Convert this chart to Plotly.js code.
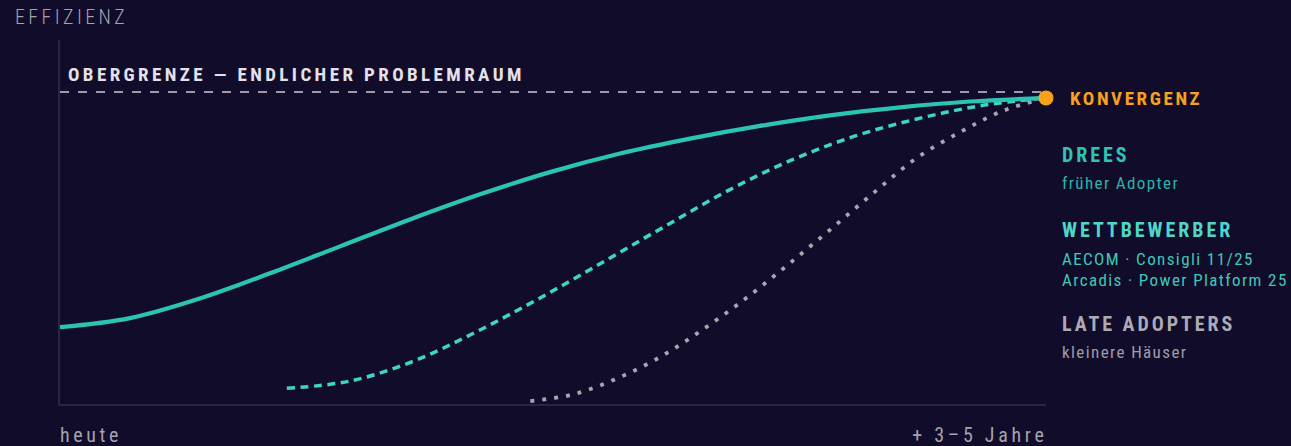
<!DOCTYPE html>
<html>
<head>
<meta charset="utf-8">
<script src="https://cdn.plot.ly/plotly-3.0.1.min.js"></script>
<style>
  html, body { margin: 0; padding: 0; background: #110c29; }
  #chart { width: 1291px; height: 446px; }
</style>
</head>
<body>
<div id="chart"></div>
<script>
// ---- data (x: 0 = heute, 100 = +3–5 Jahre; y: efficiency 0–100) ----
const xTickLabels = ['heute', '+ 3–5 Jahre'];
const yAxisLabel = 'EFFIZIENZ';
const ceilingLabel = 'OBERGRENZE — ENDLICHER PROBLEMRAUM';
const convergenceLabel = 'KONVERGENZ';
const seriesNames = ['DREES', 'WETTBEWERBER', 'LATE ADOPTERS'];
const seriesNotes = [['früher Adopter'], ['AECOM · Consigli 11/25', 'Arcadis · Power Platform 25'], ['kleinere Häuser']];

const ceilingX = [0, 100];
const ceilingY = [85.7, 85.7];

const dreesX = [0, 7.1, 14.2, 21.3, 28.4, 35.5, 42.6, 49.7, 56.8, 63.9, 71.0, 78.1, 85.2, 92.3, 100];
const dreesY = [21.1, 23.6, 29.0, 35.9, 43.3, 50.7, 57.6, 63.7, 68.8, 72.9, 76.4, 79.3, 81.5, 83.1, 84.1];

const wettX = [23.0, 29.4, 35.8, 42.2, 48.6, 55.0, 61.4, 67.8, 74.1, 80.5, 86.9, 93.3, 100];
const wettY = [4.3, 6.3, 11.7, 19.8, 29.0, 38.9, 48.9, 58.7, 66.9, 73.5, 78.3, 81.9, 84.1];

const lateX = [47.7, 52.0, 56.4, 60.8, 65.1, 69.5, 73.8, 78.2, 82.6, 86.9, 91.3, 95.6, 100];
const lateY = [0.8, 2.6, 6.9, 12.8, 20.3, 28.9, 38.2, 48.1, 58.2, 67.6, 74.7, 80.5, 84.1];

const convergenceX = [100];
const convergenceY = [84.1];

// ---- styling ----
const BG = '#110c29';
const FONT = "'Roboto Condensed', Roboto, sans-serif";
const W = 1291, H = 446;
const M = { l: 60, r: 245, t: 40, b: 42 };
const PW = W - M.l - M.r, PH = H - M.t - M.b;
const px = v => (v - M.l) / PW;
const py = v => (H - M.b - v) / PH;

const traces = [
  { x: ceilingX, y: ceilingY, mode: 'lines', hoverinfo: 'skip',
    line: { color: '#9f9aab', width: 2, dash: '9px,9px' } },
  { x: lateX, y: lateY, mode: 'lines', name: seriesNames[2],
    line: { color: '#aaa6b0', width: 3.8, dash: '3.8px,8.2px', shape: 'spline', smoothing: 1 } },
  { x: wettX, y: wettY, mode: 'lines', name: seriesNames[1],
    line: { color: '#3fd5c5', width: 3.5, dash: '8px,5.5px', shape: 'spline', smoothing: 1 } },
  { x: dreesX, y: dreesY, mode: 'lines', name: seriesNames[0],
    line: { color: '#2bc4b3', width: 4.2, shape: 'spline', smoothing: 1 } },
  { x: convergenceX, y: convergenceY, mode: 'markers', cliponaxis: false, name: convergenceLabel,
    marker: { color: '#f7a11c', size: 15 } }
];

const ann = [];
const spacing = [];
function add(text, x, y, size, weight, color, xanchor, ls) {
  ann.push({ text: text, xref: 'paper', yref: 'paper', x: px(x), y: py(y),
    xanchor: xanchor, yanchor: 'middle', align: xanchor, showarrow: false,
    font: { family: FONT, size: size, weight: weight, color: color } });
  spacing.push(ls);
}
add(yAxisLabel, 13, 17, 20, 300, '#a6a2ae', 'left', 3.4);
add(ceilingLabel, 66, 74, 19, 700, '#e4e1ea', 'left', 3.4);
add(convergenceLabel, 1068, 98, 19, 700, '#f7a11c', 'left', 2.6);
add(seriesNames[0], 1060, 154.5, 20, 700, '#2ec4b3', 'left', 2.95);
add(seriesNotes[0][0], 1060, 183, 17, 400, '#2db3a6', 'left', 1.4);
add(seriesNames[1], 1060, 230, 20, 700, '#4fd6ca', 'left', 2.95);
add(seriesNotes[1][0], 1060, 258.5, 17, 400, '#3fc7ba', 'left', 1.4);
add(seriesNotes[1][1], 1060, 280, 17, 400, '#3fc7ba', 'left', 1.4);
add(seriesNames[2], 1060, 324, 20, 700, '#aeaab5', 'left', 2.95);
add(seriesNotes[2][0], 1060, 352, 17, 400, '#a09cab', 'left', 1.4);
add(xTickLabels[0], 58, 435, 20, 400, '#a6a2ae', 'left', 3.6);
add(xTickLabels[1], 1050, 435, 20, 400, '#a6a2ae', 'right', 3.7);

const layout = {
  width: W, height: H,
  margin: M,
  paper_bgcolor: BG, plot_bgcolor: BG,
  showlegend: false,
  xaxis: { range: [0, 100], showgrid: false, zeroline: false, showticklabels: false, ticks: '',
    showline: true, linecolor: '#2a2545', linewidth: 2, fixedrange: true },
  yaxis: { range: [0, 100], showgrid: false, zeroline: false, showticklabels: false, ticks: '',
    showline: true, linecolor: '#2a2545', linewidth: 2, fixedrange: true },
  annotations: ann
};

Plotly.newPlot('chart', traces, layout, { displayModeBar: false, staticPlot: true }).then(() => {
  document.querySelectorAll('#chart g.annotation').forEach(g => {
    const i = +g.getAttribute('data-index');
    const t = g.querySelector('text.annotation-text');
    if (t && spacing[i]) {
      t.style.letterSpacing = spacing[i] + 'px';
    }
  });
});
</script>
</body>
</html>
